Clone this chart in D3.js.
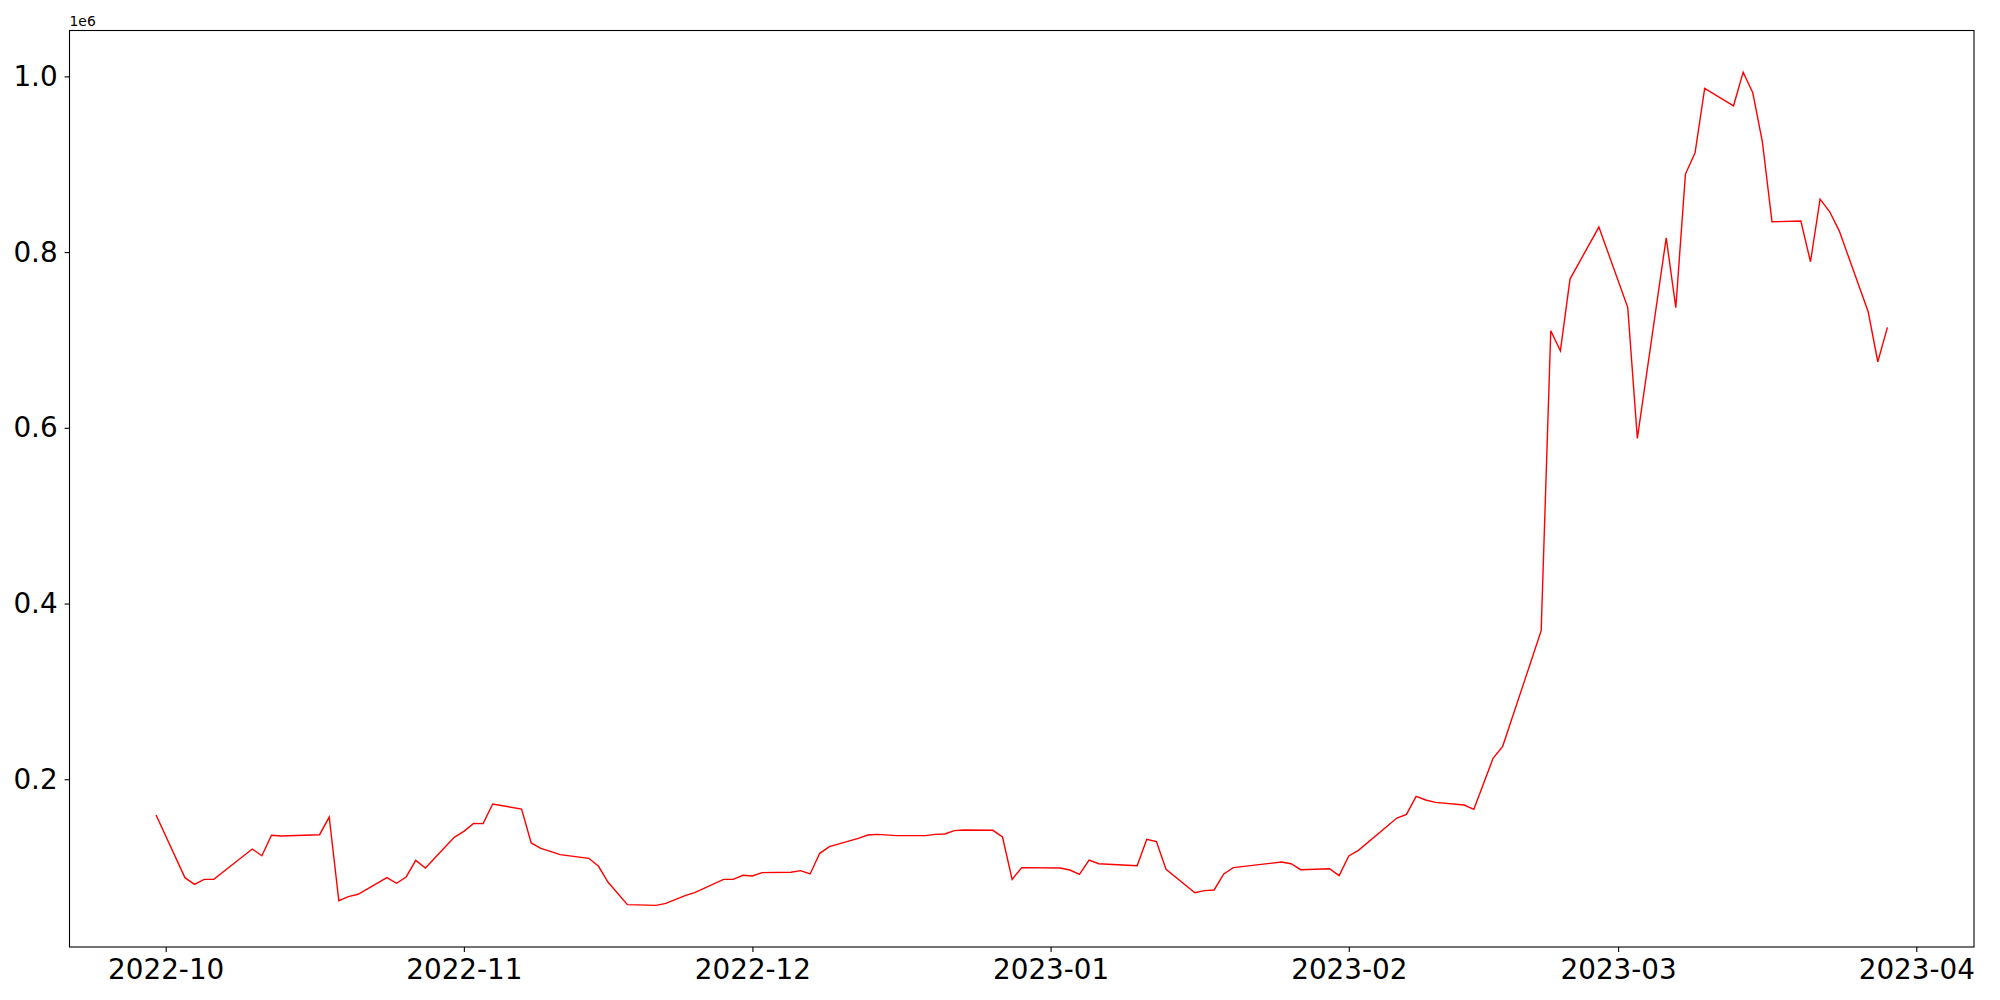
<!DOCTYPE html>
<html>
<head>
<meta charset="utf-8">
<script src="https://cdn.jsdelivr.net/npm/d3@7"></script>
<style>
    body { margin: 0; background: #fff; }
    text { font-family: "DejaVu Sans", sans-serif; fill: #000; }
</style>
</head>
<body>
<svg width="2000" height="1000"></svg>
<script>

// daily series (missing days are gaps in the source)
var dates = [
    "2022-09-30", "2022-10-03", "2022-10-04", "2022-10-05", "2022-10-06", "2022-10-10",
    "2022-10-11", "2022-10-12", "2022-10-13", "2022-10-17", "2022-10-18", "2022-10-19",
    "2022-10-20", "2022-10-21", "2022-10-24", "2022-10-25", "2022-10-26", "2022-10-27",
    "2022-10-28", "2022-10-31", "2022-11-01", "2022-11-02", "2022-11-03", "2022-11-04",
    "2022-11-07", "2022-11-08", "2022-11-09", "2022-11-10", "2022-11-11", "2022-11-14",
    "2022-11-15", "2022-11-16", "2022-11-18", "2022-11-21", "2022-11-22", "2022-11-24",
    "2022-11-25", "2022-11-28", "2022-11-29", "2022-11-30", "2022-12-01", "2022-12-02",
    "2022-12-05", "2022-12-06", "2022-12-07", "2022-12-08", "2022-12-09", "2022-12-12",
    "2022-12-13", "2022-12-14", "2022-12-16", "2022-12-19", "2022-12-20", "2022-12-21",
    "2022-12-22", "2022-12-23", "2022-12-26", "2022-12-27", "2022-12-28", "2022-12-29",
    "2023-01-02", "2023-01-03", "2023-01-04", "2023-01-05", "2023-01-06", "2023-01-10",
    "2023-01-11", "2023-01-12", "2023-01-13", "2023-01-16", "2023-01-17", "2023-01-18",
    "2023-01-19", "2023-01-20", "2023-01-25", "2023-01-26", "2023-01-27", "2023-01-30",
    "2023-01-31", "2023-02-01", "2023-02-02", "2023-02-06", "2023-02-07", "2023-02-08",
    "2023-02-09", "2023-02-10", "2023-02-13", "2023-02-14", "2023-02-16", "2023-02-17",
    "2023-02-20", "2023-02-21", "2023-02-22", "2023-02-23", "2023-02-24", "2023-02-27",
    "2023-03-02", "2023-03-03", "2023-03-06", "2023-03-07", "2023-03-08", "2023-03-09",
    "2023-03-10", "2023-03-13", "2023-03-14", "2023-03-15", "2023-03-16", "2023-03-17",
    "2023-03-20", "2023-03-21", "2023-03-22", "2023-03-23", "2023-03-24", "2023-03-27",
    "2023-03-28", "2023-03-29"
];

var values = [
    159300, 88000, 80400, 86100, 86100, 120600,
    113000, 136200, 135400, 136900, 157000, 61800,
    66400, 69100, 88000, 81600, 88800, 107700,
    99000, 133900, 140700, 149800, 149500, 171800,
    166100, 127500, 121400, 118000, 114200, 110000,
    100900, 82700, 57300, 56500, 58800, 67500,
    70900, 86100, 86100, 90700, 89900, 93700,
    94100, 96000, 92200, 115700, 123300, 132800,
    136600, 137300, 135800, 135800, 137300, 137700,
    141500, 142200, 141900, 134300, 86100, 99400,
    99000, 96700, 91800, 108100, 103900, 101600,
    131700, 129000, 97500, 70900, 73200, 74000,
    92200, 99400, 105800, 103900, 97100, 98200,
    90300, 112700, 119100, 155900, 160100, 180600,
    176400, 173700, 170700, 165800, 223800, 237500,
    336000, 369100, 710500, 687700, 769300, 828500,
    737100, 588000, 816300, 736800, 888800, 913000,
    986200, 966500, 1004800, 981300, 925500, 834500,
    835300, 789000, 860300, 845900, 823900, 732100,
    675200, 714300
];

var yTicks = [200000, 400000, 600000, 800000, 1000000];

var data = dates.map(function(d, i) {
    return {date: d3.utcParse("%Y-%m-%d")(d), value: values[i]};
});

var svg = d3.select("svg"),
margin = {top: 30.5, right: 26, bottom: 53, left: 69.5},
width = +svg.attr("width") - margin.left - margin.right,
height = +svg.attr("height") - margin.top - margin.bottom;

// matplotlib style 5% padding on both axes
var xExt = d3.extent(data, function(d) { return d.date; });
var xPad = (xExt[1] - xExt[0]) * 0.05;
var yExt = d3.extent(data, function(d) { return d.value; });
var yPad = (yExt[1] - yExt[0]) * 0.05;

var x = d3.scaleUtc()
.range([0, width])
.domain([new Date(+xExt[0] - xPad), new Date(+xExt[1] + xPad)]);

var y = d3.scaleLinear()
.range([height, 0])
.domain([yExt[0] - yPad, yExt[1] + yPad]);

var chart = svg.append("g")
.attr("transform", "translate(" + margin.left + "," + margin.top + ")");

// x axis, one tick per month
var xAxis = chart.append("g")
.attr("transform", "translate(0," + height + ")")
.call(d3.axisBottom(x)
    .ticks(d3.utcMonth.every(1))
    .tickFormat(d3.utcFormat("%Y-%m"))
    .tickSize(4.9)
    .tickPadding(7.5));

// y axis
var yAxis = chart.append("g")
.call(d3.axisLeft(y)
    .tickValues(yTicks)
    .tickFormat(function(d) { return (d / 1e6).toFixed(1); })
    .tickSize(4.9)
    .tickPadding(7));

[xAxis, yAxis].forEach(function(a) {
    a.select(".domain").remove();
    a.selectAll(".tick line").attr("stroke", "#000").attr("stroke-width", 1.1);
    a.selectAll(".tick text").style("font-size", "27.8px").style("font-family", "DejaVu Sans");
});

// the line
var line = d3.line()
.x(function(d) { return x(d.date); })
.y(function(d) { return y(d.value); });

chart.append("path")
.datum(data)
.attr("fill", "none")
.attr("stroke", "#ff0000")
.attr("stroke-width", 1.4)
.attr("stroke-linejoin", "miter")
.attr("d", line);

// frame
chart.append("rect")
.attr("width", width)
.attr("height", height)
.attr("fill", "none")
.attr("stroke", "#000")
.attr("stroke-width", 1.1);

// offset text
svg.append("text")
.attr("x", margin.left)
.attr("y", 25.5)
.style("font-size", "13.9px")
.text("1e6");

</script>
</body>
</html>
